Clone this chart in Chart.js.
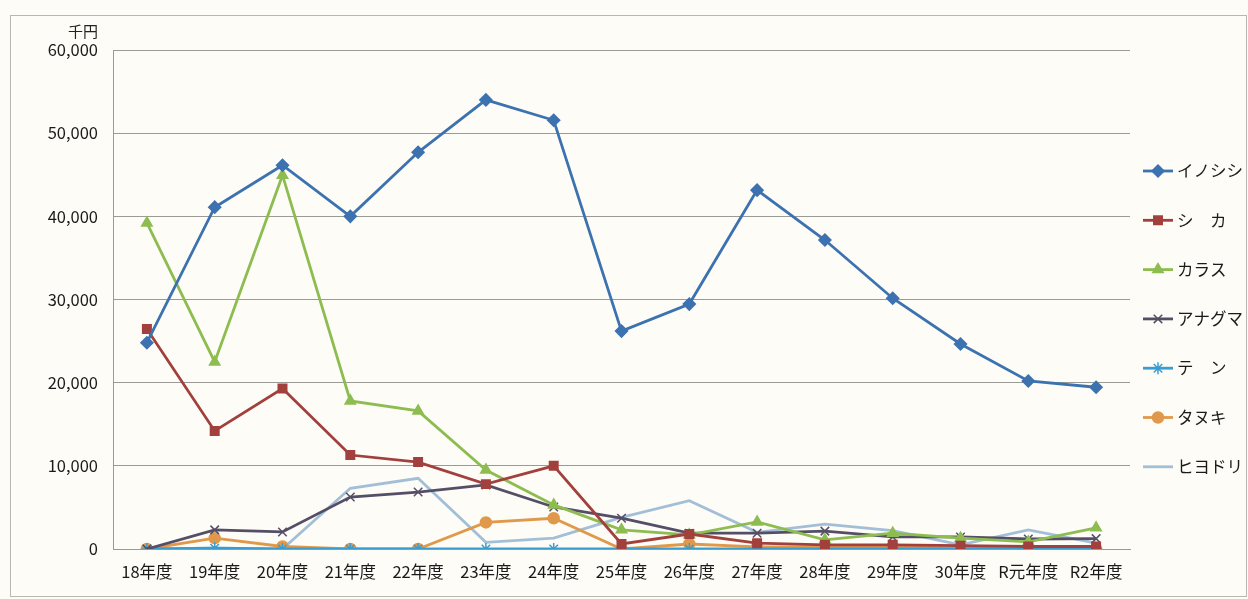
<!DOCTYPE html>
<html>
<head>
<meta charset="utf-8">
<script src="https://cdn.jsdelivr.net/npm/chart.js@4.4.1/dist/chart.umd.min.js"></script>
<style>
  html, body { margin: 0; padding: 0; background: #fdfcf6; }
  #wrap { width: 1248px; height: 599px; position: relative; }
</style>
</head>
<body>
<div id="wrap"><canvas id="chart"></canvas></div>
<script>
const years = ["18年度", "19年度", "20年度", "21年度", "22年度", "23年度", "24年度", "25年度",
  "26年度", "27年度", "28年度", "29年度", "30年度", "R元年度", "R2年度"];

// 千円
const inoshishi = [24800, 41100, 46150, 40000, 47700, 54000, 51550, 26200, 29450, 43150, 37150, 30150, 24650, 20200, 19450];
const shika = [26450, 14200, 19300, 11300, 10450, 7800, 10000, 600, 1800, 700, 500, 500, 400, 300, 300];
const karasu = [39200, 22500, 44950, 17800, 16600, 9500, 5300, 2300, 1700, 3250, 1100, 1900, 1300, 850, 2550];
const anaguma = [0, 2300, 2050, 6250, 6850, 7700, 5050, 3700, 1900, 1900, 2150, 1450, 1450, 1200, 1250];
const ten = [0, 100, 0, 0, 0, 0, 0, 0, 0, 0, 0, 0, 0, 0, 0];
const tanuki = [0, 1300, 300, 0, 0, 3200, 3700, 0, 600, 250, 250, 300, 100, 0, 0];
const hiyodori = [0, 100, 0, 7300, 8500, 800, 1300, 3800, 5800, 2000, 3000, 2200, 500, 2300, 700];

const yTicks = [0, 10000, 20000, 30000, 40000, 50000, 60000];

const series = [
  { label: "イノシシ", data: inoshishi, color: "#3d72b0", point: "rectRot", r: 6 },
  { label: "シ　カ", data: shika, color: "#a2403e", point: "rect", r: 6 },
  { label: "カラス", data: karasu, color: "#8dbd50", point: "triangle", r: 6 },
  { label: "アナグマ", data: anaguma, color: "#554e66", point: "crossRot", r: 6 },
  { label: "テ　ン", data: ten, color: "#3a9dcf", point: "star", r: 6 },
  { label: "タヌキ", data: tanuki, color: "#e0994b", point: "circle", r: 5.5 },
  { label: "ヒヨドリ", data: hiyodori, color: "#a3bfd8", point: false, r: 0 }
];

const FONT = "'Noto Sans CJK JP', 'Noto Sans', sans-serif";

const legendPlugin = {
  id: "sideLegend",
  afterDraw(chart) {
    const ctx = chart.ctx;
    ctx.save();
    // outer frame
    ctx.strokeStyle = "#b8b8b0";
    ctx.lineWidth = 1;
    ctx.strokeRect(10.5, 15.5, 1236, 581);
    // unit label
    ctx.fillStyle = "#222";
    ctx.font = "15px " + FONT;
    ctx.textAlign = "right";
    ctx.textBaseline = "middle";
    ctx.fillText("千円", 98, 31);
    // legend
    chart.data.datasets.forEach((ds, i) => {
      const y = 171 + i * 49.3;
      ctx.strokeStyle = ds.borderColor;
      ctx.lineWidth = 2.8;
      ctx.beginPath();
      ctx.moveTo(1143, y);
      ctx.lineTo(1173, y);
      ctx.stroke();
      if (ds.pointStyle) {
        ctx.fillStyle = ds.borderColor;
        ctx.strokeStyle = ds.borderColor;
        ctx.lineWidth = 1.5;
        Chart.helpers.drawPoint(ctx, { pointStyle: ds.pointStyle, radius: ds.pointRadius, borderWidth: 1.5, rotation: 0 }, 1158, y);
      }
      ctx.fillStyle = "#1a1a1a";
      ctx.font = "16.5px " + FONT;
      ctx.textAlign = "left";
      ctx.fillText(ds.label, 1177, y);
    });
    ctx.restore();
  }
};

new Chart(document.getElementById("chart"), {
  type: "line",
  data: {
    labels: years,
    datasets: series.map(s => ({
      label: s.label,
      data: s.data,
      borderColor: s.color,
      backgroundColor: s.color,
      borderWidth: 2.8,
      pointStyle: s.point,
      pointRadius: s.r,
      pointBorderWidth: 1.5,
      tension: 0
    }))
  },
  options: {
    responsive: true,
    maintainAspectRatio: false,
    animation: false,
    layout: { padding: { left: 0, top: 50, right: 118, bottom: 0 } },
    plugins: {
      legend: { display: false },
      tooltip: { enabled: false }
    },
    scales: {
      x: {
        offset: true,
        grid: { display: false, drawTicks: false },
        border: { color: "#999", width: 1 },
        ticks: { color: "#1a1a1a", font: { family: FONT, size: 16.5 }, padding: 13, maxRotation: 0, autoSkip: false },
        afterFit: scale => { scale.height = 50; }
      },
      y: {
        min: 0,
        max: 60000,
        afterBuildTicks: scale => { scale.ticks = yTicks.map(v => ({ value: v })); },
        grid: { color: "#9a9a96", lineWidth: 1, drawTicks: false },
        border: { color: "#999", width: 1 },
        ticks: {
          color: "#1a1a1a",
          font: { family: FONT, size: 16.5 },
          padding: 15,
          callback: v => v.toLocaleString("en-US")
        },
        afterFit: scale => { scale.width = 113; }
      }
    }
  },
  plugins: [legendPlugin]
});
</script>
</body>
</html>
